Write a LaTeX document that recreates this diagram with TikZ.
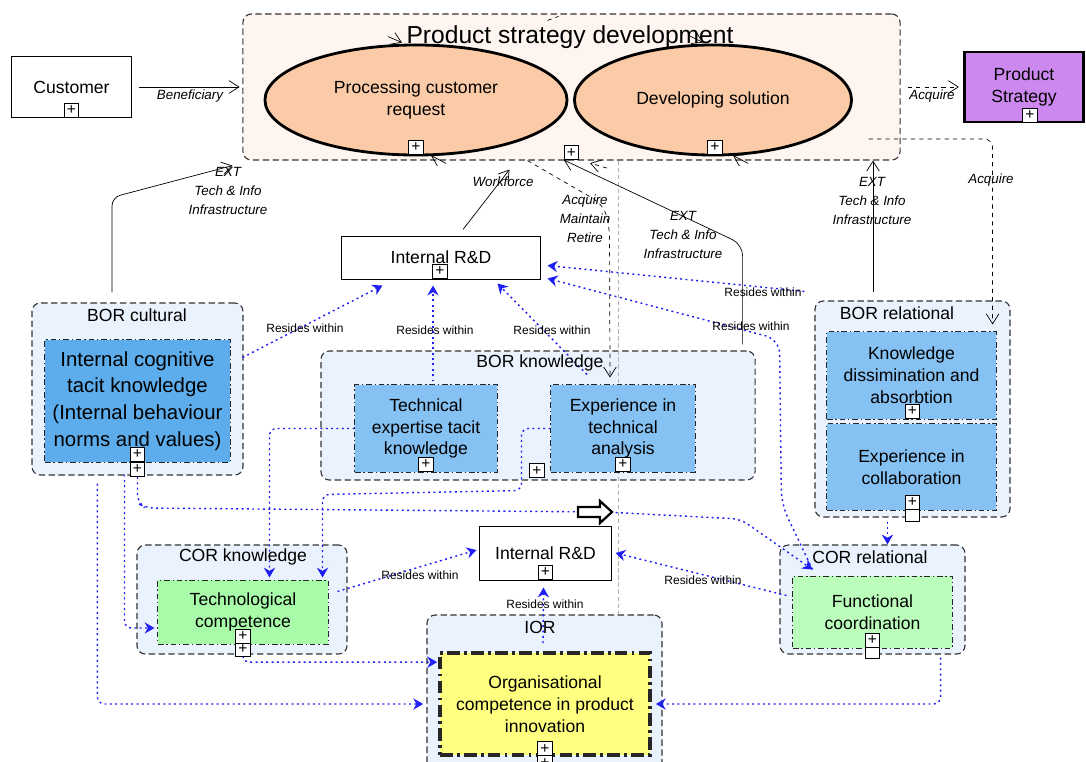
\documentclass[tikz,border=0pt]{standalone}
\usepackage{fontspec}
\setmainfont{Liberation Sans}
\usetikzlibrary{arrows.meta, positioning, calc, shapes.geometric}

\definecolor{psdback}{HTML}{FEF5F0}
\definecolor{unitback}{HTML}{EAF2FD}
\definecolor{peach}{HTML}{FBCBA7}
\definecolor{prodpurple}{HTML}{CC88EE}
\definecolor{cogblue}{HTML}{5DADEC}
\definecolor{capblue}{HTML}{85C1F2}
\definecolor{compgreen}{HTML}{A8FBA8}
\definecolor{funcgreen}{HTML}{BBFDBB}
\definecolor{orgyellow}{HTML}{FFFF80}
\definecolor{linkblue}{HTML}{1F1FF5}

\pgfdeclarelayer{back}
\pgfdeclarelayer{links}
\pgfsetlayers{back,links,main}

\tikzset{
  orgunit/.style={draw=black!80, dash pattern=on 4.5pt off 2.5pt, rounded corners=6pt,
    fill=unitback, line width=0.8pt},
  unittitle/.style={font=\fontsize{12.5}{14}\selectfont, inner sep=0pt},
  capab/.style={draw=black!85, dash pattern=on 4pt off 2pt on 1pt off 2pt, line width=0.7pt,
    align=center, font=\fontsize{12.5}{15.6}\selectfont, inner sep=1pt},
  plainbox/.style={draw, line width=0.7pt, align=center, font=\fontsize{12.5}{15.6}\selectfont},
  plusbox/.style={draw, fill=white, minimum size=10pt, inner sep=0pt, line width=0.7pt,
    font=\fontsize{11}{11}\selectfont},
  flow/.style={-{Straight Barb[length=7pt,width=9pt]}, line width=0.5pt},
  resides/.style={linkblue, dash pattern=on 1.4pt off 2.4pt, line width=1pt,
    -{Stealth[length=7pt,width=8pt]}},
  tag/.style={font=\fontsize{9.5}{13.5}\selectfont\itshape, align=center, inner sep=1pt},
  restag/.style={font=\fontsize{8.5}{10}\selectfont, inner sep=1pt},
}

\begin{document}
\begin{tikzpicture}[x=0.025cm, y=-0.025cm]
\useasboundingbox (0,0) rectangle (1086,762);

% organisational units
\begin{pgfonlayer}{back}
\node[orgunit, fill=psdback, minimum width=16.425cm, minimum height=3.65cm] (psd) at (571.5,87) {};
\node[orgunit, minimum width=5.275cm, minimum height=4.3cm] (borc) at (137.5,389) {};
\node[orgunit, minimum width=10.85cm, minimum height=3.225cm] (borknow) at (538,415.5) {};
\node[orgunit, minimum width=4.875cm, minimum height=5.4cm] (borrel) at (912.5,409) {};
\node[orgunit, minimum width=5.25cm, minimum height=2.725cm] (corknow) at (242,599.5) {};
\node[orgunit, minimum width=4.625cm, minimum height=2.725cm] (correl) at (872.5,599.5) {};
\node[orgunit, minimum width=5.875cm, minimum height=4cm] (ior) at (544.5,695) {};
\end{pgfonlayer}

\node[unittitle] (borctitle) at (137,315) {BOR cultural};
\node[unittitle] (borknowtitle) at (540,363) {BOR knowledge};
\node[unittitle] (boreltitle) at (897,313) {BOR relational};
\node[unittitle] (corknowtitle) at (243,557) {COR knowledge};
\node[unittitle] (correltitle) at (870,557) {COR relational};
\node[unittitle] (iortitle) at (540,627) {IOR};

% processes and actors
\node[ellipse, draw, line width=2pt, fill=peach, minimum width=7.55cm, minimum height=2.75cm,
  align=center, font=\fontsize{12.5}{15.6}\selectfont] (reqproc) at (416,100) {Processing customer\\request};
\node[ellipse, draw, line width=2pt, fill=peach, minimum width=6.925cm, minimum height=2.75cm,
  font=\fontsize{12.5}{15.6}\selectfont] (soldev) at (713,100) {Developing solution};
\node[font=\fontsize{17.5}{20}\selectfont, inner sep=0pt] (psdtitle) at (570,37) {Product strategy development};

\node[plainbox, minimum width=2.975cm, minimum height=1.5cm] (cust) at (71.5,87) {Customer};
\node[plainbox, line width=2pt, fill=prodpurple, minimum width=2.975cm, minimum height=1.75cm] (pstrat) at (1024,87) {Product\\Strategy};
\node[plainbox, minimum width=4.95cm, minimum height=1.075cm] (rd1) at (441,257.5) {Internal R\&D};
\node[plainbox, fill=white, minimum width=3.275cm, minimum height=1.35cm] (rd2) at (545.5,553) {Internal R\&D};

% capabilities
\node[capab, fill=cogblue, minimum width=4.625cm, minimum height=3.05cm,
  font=\fontsize{14.5}{19}\selectfont] (intcog) at (137.5,401)
  {Internal cognitive\\tacit knowledge\\(Internal behaviour\\norms and values)};
\node[capab, fill=capblue, minimum width=3.55cm, minimum height=2.175cm] (techexp) at (426,428.5)
  {Technical\\expertise tacit\\knowledge};
\node[capab, fill=capblue, minimum width=3.6cm, minimum height=2.175cm] (exptech) at (623,428.5)
  {Experience in\\technical\\analysis};
\node[capab, fill=capblue, minimum width=4.225cm, minimum height=2.175cm] (knowdis) at (911.5,375.5)
  {Knowledge\\dissimination and\\absorbtion};
\node[capab, fill=capblue, minimum width=4.225cm, minimum height=2.15cm] (expcol) at (911.5,467)
  {Experience in\\collaboration};
\node[capab, fill=compgreen, minimum width=4.25cm, minimum height=1.6cm] (techcomp) at (243,612)
  {Technological\\competence};
\node[capab, fill=funcgreen, minimum width=3.975cm, minimum height=1.8cm] (funcco) at (872.5,612)
  {Functional\\coordination};
\node[capab, fill=orgyellow, line width=2.6pt, dash pattern=on 9pt off 3pt on 2pt off 3pt,
  minimum width=5.25cm, minimum height=2.55cm] (organ) at (545,704)
  {Organisational\\competence in product\\innovation};

% expand markers
\node[plusbox] (icplustwo) at ($(intcog.south)+(0,7)$) {+};
\node[plusbox] (ecplustwo) at ($(expcol.south)+(1,4)$) {};
\node[plusbox] (tcplustwo) at ($(techcomp.south)+(0,5)$) {+};
\node[plusbox] (fcplustwo) at ($(funcco.south)+(0,3)$) {};
\node[plusbox] (orplustwo) at ($(organ.south)+(0,6)$) {+};
\node[plusbox] (custplus) at ($(cust.south)+(0,-7)$) {+};
\node[plusbox] (rpplus) at ($(reqproc.south)+(0,-9)$) {+};
\node[plusbox] (sdplus) at ($(soldev.south)+(2,-9)$) {+};
\node[plusbox] (psdplus) at ($(psd.south)+(0,-8)$) {+};
\node[plusbox] (psplus) at ($(pstrat.south)+(6,-8)$) {+};
\node[plusbox] (rd1plus) at ($(rd1.south)+(-1,-8)$) {+};
\node[plusbox] (rd2plus) at ($(rd2.south)+(0,-8)$) {+};
\node[plusbox] (icplus) at ($(intcog.south)+(0,-8)$) {+};
\node[plusbox] (teplus) at ($(techexp.south)+(0,-8)$) {+};
\node[plusbox] (etplus) at ($(exptech.south)+(0,-8)$) {+};
\node[plusbox] (bkplus) at ($(borknow.south)+(-1,-10)$) {+};
\node[plusbox] (kdplus) at ($(knowdis.south)+(1,-8)$) {+};
\node[plusbox] (ecplus) at ($(expcol.south)+(1,-8)$) {+};
\node[plusbox] (tcplus) at ($(techcomp.south)+(0,-8)$) {+};
\node[plusbox] (fcplus) at ($(funcco.south)+(0,-8)$) {+};
\node[plusbox] (orplus) at ($(organ.south)+(0,-8)$) {+};

\draw[line width=1.6pt, fill=white] (578,507) -- (600,507) -- (600,501) -- (612,512)
  -- (600,523) -- (600,517) -- (578,517) -- cycle;

\begin{pgfonlayer}{links}
\draw[gray!60, dash pattern=on 3pt off 2pt, line width=0.6pt]
  ($(psd.south)+(46.5,0)$) coordinate (gtop) -- (gtop |- ior.north);

% black flows
\draw[flow, shorten <=5pt, shorten >=2pt] (cust.east) -- (psd.west);
\draw[flow, rounded corners=6pt] ($(borc.north)+(-25.5,-10)$) -- ++(0,-95) -- ($(psd.south west)+(-10,5)$);
\draw[flow] ($(rd1.north)+(22,-6)$) -- ($(psd.south)+(-62,9)$);
\draw[flow, dashed, rounded corners=8pt] ($(psd.south)+(-44,0)$) -- ++(76,44) -- ++(6,22)
  -- ($(borknow.north)+(72,27)$);
\draw[flow, rounded corners=8pt] ($(borknow.north east)+(-13,-6)$) -- ++(0,-100) -- (psdplus.south west);
\draw[flow, dashed] ($(psdplus.south east)+(28,8)$) -- ($(psdplus.south east)+(11,3)$);
\draw[flow, dashed, shorten <=5pt, shorten >=3pt] (psd.east) -- (pstrat.west);
\draw[flow] ($(borrel.north)+(-39.5,-8)$) coordinate (extr) -- (extr |- psd.south);
\draw[flow, dashed, rounded corners=6pt] ($(psd.east)+(-32,52)$) -| ($(borrel.north east)+(-18,24)$);
\draw[flow] ($(reqproc.north)+(-28,-7)$) -- ($(reqproc.north)+(-14,-1)$);
\draw[flow] ($(soldev.north)+(-24,-8)$) -- ($(soldev.north)+(-10,-1)$);
\draw[flow] ($(reqproc.south)+(30,7)$) -- ($(reqproc.south)+(15,-1)$);
\draw[flow] ($(soldev.south)+(35,7)$) -- ($(soldev.south)+(20,-1)$);
\draw[dashed, line width=0.5pt] ($(psd.north)+(-24,7)$) -- ($(psd.north)+(-13,3)$);

% resides within
\draw[resides] ($(intcog.north east)+(12,18)$) -- ($(rd1.south west)+(41,6)$);
\draw[resides] ($(techexp.north)+(7,-3)$) -- ($(rd1.south)+(-8,6)$);
\draw[resides] ($(exptech.north)+(-36,-10)$) -- ($(rd1.south east)+(-43,4)$);
\draw[resides] ($(borrel.north west)+(-10,-9)$) -- ($(rd1.east)+(7,8)$);
\draw[resides, rounded corners=10pt] ($(funcco.north west)+(20,-6)$) -- ++(-31,-65) -- ++(-2,-165)
  -- ($(rd1.east)+(7,21)$);
\draw[resides, rounded corners=5pt] (techexp.west) -| ($(techcomp.north west)+(112,-2)$);
\draw[resides, rounded corners=5pt] (exptech.west) -- ++(-29,0) -- ++(0,62)
  -- ($(techcomp.north east)+(-6,-85)$) -- ($(techcomp.north east)+(-6,-2)$);
\draw[resides] ($(techcomp.north east)+(9,12)$) -- ($(rd2.west)+(-3,-3)$);
\draw[resides] ($(organ.north)+(-2,-8)$) -- ($(rd2.south)+(-2,7)$);
\draw[resides] ($(funcco.north west)+(-6,20)$) -- ($(rd2.east)+(4,0)$);
\draw[resides, rounded corners=4pt] (tcplustwo.south) |- ($(organ.north west)+(-1,11)$);
\draw[resides, rounded corners=5pt] ($(borc.south west)+(66,8)$) |- ($(organ.west)+(-15,0)$);
\draw[resides, rounded corners=5pt] ($(intcog.south west)+(80,12)$) |- ($(techcomp.west)+(-3,16)$);
\draw[resides, rounded corners=6pt] (icplustwo.south) -- ++(0,26) -- ++(8,5) -- ++(460,4)
  -- ++(135,7) -- ($(funcco.north west)+(20,-6)$);
\draw[resides, rounded corners=5pt] ($(correl.south east)+(-25,3)$) |- ($(organ.east)+(4,0)$);
\draw[resides] ($(borrel.south)+(-25,4)$) coordinate (brs) -- (brs |- correl.north);
\end{pgfonlayer}

% connector labels
\node[tag] (benefittag) at (190,96) {Beneficiary};
\node[tag] (extlefttag) at (228,191) {EXT\\Tech \& Info\\Infrastructure};
\node[tag] (workforcetag) at (503,182) {Workforce};
\node[tag] (amrtag) at (585,219) {Acquire\\Maintain\\Retire};
\node[tag] (extmidtag) at (683,235) {EXT\\Tech \& Info\\Infrastructure};
\node[tag] (acqtag) at (932,96) {Acquire};
\node[tag] (extrighttag) at (872,201) {EXT\\Tech \& Info\\Infrastructure};
\node[tag] (acqrighttag) at (991,180) {Acquire};
\node[restag] (restaga) at (305,328) {Resides within};
\node[restag] (restagb) at (435,330) {Resides within};
\node[restag] (restagc) at (552,330) {Resides within};
\node[restag] (restagd) at (763,292) {Resides within};
\node[restag] (restage) at (751,326) {Resides within};
\node[restag] (restagf) at (420,575) {Resides within};
\node[restag] (restagg) at (545,604) {Resides within};
\node[restag] (restagh) at (703,580) {Resides within};
\end{tikzpicture}
\end{document}
